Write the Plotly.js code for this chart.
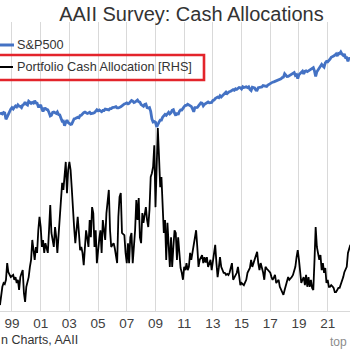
<!DOCTYPE html>
<html>
<head>
<meta charset="utf-8">
<script src="https://cdn.plot.ly/plotly-3.0.1.min.js"></script>
<style>html,body{margin:0;padding:0;background:#fff;}#chart{width:350px;height:350px;}</style>
</head>
<body>
<div id="chart"></div>
<script>
// ---- data (monthly, first value = March 1998) ----
const seriesStart = [1998, 3];
const spxName = 'S&P500';
const cashName = 'Portfolio Cash Allocation [RHS]';
const spxValues = [
  1025,1034,1015,1055,1043,890,946,1022,1083,1143,
  1190,1151,1196,1242,1211,1277,1236,1228,1193,1268,1292,1366,
  1296,1270,1394,1350,1322,1353,1331,1412,1336,1329,1223,1228,
  1270,1153,1079,1162,1168,1138,1126,1055,968,986,1059,1068,
  1051,1030,1067,1001,992,921,848,852,758,824,870,818,
  796,782,789,853,897,907,921,937,926,977,984,1034,
  1052,1065,1047,1030,1043,1061,1025,1027,1037,1051,1092,1127,
  1098,1120,1098,1076,1109,1108,1148,1135,1143,1123,1162,1161,
  1190,1191,1204,1219,1181,1181,1188,1213,1242,1282,1303,1319,
  1337,1309,1322,1378,1424,1398,1353,1371,1420,1441,1377,1365,
  1282,1238,1230,1289,1302,1190,1178,1193,1083,901,833,840,
  826,735,790,829,873,873,938,970,1004,984,1041,1059,
  1020,1049,1111,1128,1035,979,1047,997,1084,1124,1122,1195,
  1222,1261,1260,1296,1278,1255,1227,1158,1074,1190,1185,1195,
  1246,1298,1338,1328,1245,1294,1310,1337,1369,1341,1345,1355,
  1423,1439,1491,1518,1549,1526,1602,1551,1598,1669,1716,1756,
  1694,1766,1778,1790,1828,1862,1834,1903,1873,1917,1965,1956,
  1895,2000,1965,1982,2002,1960,1999,1873,1824,1975,1976,1942,
  1843,1835,1957,1962,1992,1994,2065,2062,2060,2020,2089,2127,
  2165,2246,2245,2265,2291,2302,2347,2348,2393,2446,2516,2540,
  2768,2660,2588,2595,2651,2664,2760,2844,2856,2658,2705,2457,
  2704,2784,2834,2946,2752,2942,2980,2926,2977,3038,3141,3231,
  3226,2954,2585,2912,3044,3100,3271,3500,3363,3270,3622,3756,
  3714,3811,3973,4181,4204,4298,4395,4523,4308,4605,4567,4766,
  4516,4374,4530,4132,4132,3785,4130,3955
];
const cashValues = [
  11.1,13.3,14.5,15.2,15.0,15.8,18.9,17.2,16.8,16.3,
  16.5,16.7,15.8,16.3,15.2,15.8,13.9,16.3,17.0,17.6,13.3,11.7,
  14.5,15.5,16.3,18.2,19.5,23.2,20.8,19.5,21.9,20.8,25.0,27.5,
  25.6,21.9,23.2,20.8,22.6,21.5,20.8,25.0,29.7,24.5,23.0,21.9,
  25.6,23.7,20.8,23.7,26.9,30.1,33.8,32.5,35.0,37.7,31.9,36.2,
  37.7,36.2,33.0,30.1,25.6,22.6,25.0,27.5,24.5,21.3,21.9,20.8,
  18.5,21.9,25.0,23.5,21.9,26.9,23.7,29.3,28.2,21.9,25.0,18.9,
  21.9,23.5,25.0,20.8,26.9,25.0,23.2,28.2,30.5,32.5,25.0,21.9,
  22.3,22.6,21.7,20.5,18.9,27.5,31.2,31.9,24.5,24.3,24.1,20.8,
  18.9,22.6,18.9,23.7,24.5,18.9,22.0,25.0,30.6,26.9,31.0,23.7,
  22.6,28.2,26.4,28.0,29.3,26.9,25.6,28.8,34.9,35.6,36.8,40.8,
  29.3,37.0,44.0,38.6,33.0,34.9,28.2,24.5,26.9,19.5,26.4,22.0,
  18.2,23.7,18.2,21.9,25.0,24.5,19.5,23.7,19.5,18.0,17.1,15.8,
  18.2,17.6,18.9,17.6,18.2,20.8,19.5,21.0,22.6,23.2,25.0,21.9,
  18.2,19.5,20.0,20.4,18.9,20.0,19.0,20.0,18.2,18.8,19.5,17.6,
  19.5,21.0,22.3,18.9,16.3,18.0,20.0,18.2,17.5,17.1,17.1,16.7,
  16.9,16.7,17.1,18.0,18.9,15.8,16.3,16.8,17.1,18.2,16.0,14.8,
  15.2,15.0,14.8,15.3,15.8,17.1,17.6,18.0,19.5,18.2,18.9,19.5,
  20.0,21.0,18.9,17.6,18.9,18.2,17.2,15.8,18.2,17.9,17.6,17.2,
  17.1,16.3,15.8,16.2,16.7,15.2,15.5,15.8,14.5,13.9,13.4,13.0,
  13.9,14.6,15.2,16.3,15.8,16.0,16.3,16.7,17.4,18.2,20.0,21.3,
  19.5,17.1,15.2,15.8,16.3,14.8,16.7,14.5,16.3,14.5,15.8,14.3,
  13.9,19.5,25.6,21.9,20.5,19.5,20.4,17.6,18.9,17.1,18.0,15.2,
  15.8,14.5,14.5,14.8,14.6,14.3,13.5,13.5,13.9,14.3,14.3,14.9,
  15.4,16.3,17.2,17.7,18.2,20.8,21.5,22.3
];
const titleText = 'AAII Survey: Cash Allocations';
const sourceText = 'n Charts, AAII';
const siteText = 'top';

// monthly date labels for each observation
function monthDates(n) {
  const out = [];
  for (let i = 0; i < n; i++) {
    const d = new Date(Date.UTC(seriesStart[0], seriesStart[1] - 1 + i, 1));
    out.push(d.toISOString().slice(0, 10));
  }
  return out;
}
const spxDates = monthDates(spxValues.length);
const cashDates = monthDates(cashValues.length);

const FONT = 'Liberation Sans, Arial, sans-serif';
const BLUE = '#4472C4';

const traces = [
  {x: spxDates, y: spxValues, name: spxName, type: 'scatter', mode: 'lines',
   line: {color: BLUE, width: 2.8}, yaxis: 'y', showlegend: false, hoverinfo: 'skip'},
  {x: cashDates, y: cashValues, name: cashName, type: 'scatter', mode: 'lines',
   line: {color: '#000000', width: 1.8}, yaxis: 'y2', showlegend: false, hoverinfo: 'skip'}
];

// pixel helpers for overlay items (plot area: y 22..311)
const PT = 22, PB = 311, W = 350;
const py = p => (PB - p) / (PB - PT);
const px = p => p / W;

const layout = {
  width: 350, height: 350,
  margin: {l: 0, r: 0, t: PT, b: 350 - PB, autoexpand: false},
  paper_bgcolor: '#ffffff', plot_bgcolor: '#ffffff',
  font: {family: FONT, color: '#404040'},
  title: {text: titleText, font: {family: FONT, size: 20, color: '#333333'},
          x: 0.547, xanchor: 'center', xref: 'paper', y: 0.961, yref: 'container', yanchor: 'middle'},
  showlegend: false,
  xaxis: {type: 'date', range: ['1998-03-02', '2022-07-23'],
          tick0: '1999-01-01', dtick: 'M24', tickformat: '%y',
          showgrid: true, gridcolor: '#d9d9d9', gridwidth: 1,
          showline: true, linecolor: '#d9d9d9', linewidth: 1, ticks: '',
          tickfont: {family: FONT, size: 13.5, color: '#404040'}, zeroline: false, fixedrange: true},
  yaxis: {type: 'log', range: [0.8747, 4.0024], visible: false, fixedrange: true},
  yaxis2: {range: [10, 63.7], overlaying: 'y', side: 'right', visible: false, fixedrange: true},
  shapes: [
    {type: 'line', xref: 'paper', yref: 'paper', x0: -0.01, x1: px(14), y0: py(45), y1: py(45),
     line: {color: BLUE, width: 3}},
    {type: 'line', xref: 'paper', yref: 'paper', x0: -0.01, x1: px(13), y0: py(67), y1: py(67),
     line: {color: '#000000', width: 2}},
    {type: 'rect', xref: 'paper', yref: 'paper', x0: -0.03, x1: px(204), y0: py(80), y1: py(55),
     line: {color: '#e3242b', width: 2.6}, fillcolor: 'rgba(0,0,0,0)'}
  ],
  annotations: [
    {text: spxName, xref: 'paper', yref: 'paper', x: px(15), y: py(45), xanchor: 'left', yanchor: 'middle',
     showarrow: false, font: {family: FONT, size: 12.7, color: '#333333'}},
    {text: cashName, xref: 'paper', yref: 'paper', x: px(15), y: py(67), xanchor: 'left', yanchor: 'middle',
     showarrow: false, font: {family: FONT, size: 12.7, color: '#333333'}},
    {text: sourceText, xref: 'paper', yref: 'paper', x: px(-1), y: py(340), xanchor: 'left', yanchor: 'middle',
     showarrow: false, font: {family: FONT, size: 12.5, color: '#333333'}},
    {text: siteText, xref: 'paper', yref: 'paper', x: px(349), y: py(342), xanchor: 'right', yanchor: 'middle',
     showarrow: false, font: {family: FONT, size: 12, color: '#8c8c8c'}}
  ]
};

Plotly.newPlot('chart', traces, layout, {displayModeBar: false, staticPlot: true});
</script>
</body>
</html>
